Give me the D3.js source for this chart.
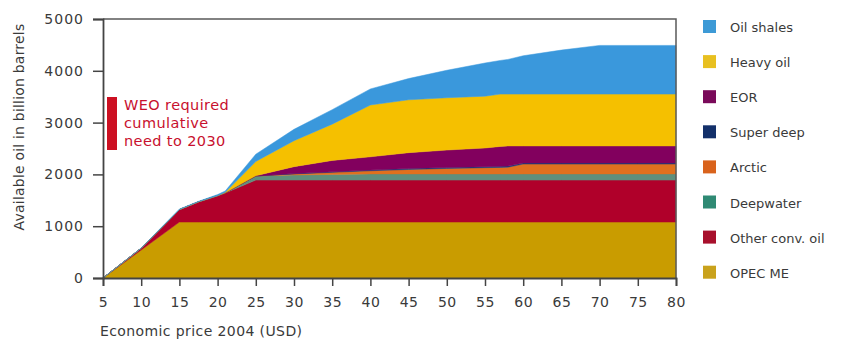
<!DOCTYPE html>
<html>
<head>
<meta charset="utf-8">
<script src="https://cdn.jsdelivr.net/npm/d3@7/dist/d3.min.js"></script>
<style>
  html, body { margin: 0; padding: 0; background: #fff; }
  svg { display: block; }
  text { font-family: "DejaVu Sans", sans-serif; fill: #3a3a3a; }
</style>
</head>
<body>
<svg id="chart" width="847" height="342"></svg>
<script>
// Economic price (2004 USD per barrel)
const prices = [5, 10, 15, 17.5, 20, 21, 25, 30, 35, 40, 45, 50, 55, 57, 58, 60, 65, 70, 75, 80];

// Available oil by source, billion barrels (stacked bottom to top)
const opecME    = [0, 540, 1080, 1080, 1080, 1080, 1080, 1080, 1080, 1080, 1080, 1080, 1080, 1080, 1080, 1080, 1080, 1080, 1080, 1080];
const otherConv = [0, 35, 240, 390, 510, 560, 810, 810, 810, 810, 810, 810, 810, 810, 810, 810, 810, 810, 810, 810];
const deepwater = [0, 0, 0, 0, 0, 5, 80, 100, 110, 120, 120, 120, 120, 120, 120, 120, 120, 120, 120, 120];
const arctic    = [0, 0, 0, 0, 0, 0, 0, 20, 40, 60, 85, 105, 120, 125, 130, 190, 190, 190, 190, 190];
const superDeep = [0, 0, 0, 0, 0, 0, 0, 5, 10, 15, 20, 20, 20, 20, 20, 20, 20, 20, 20, 20];
const eor       = [0, 0, 0, 0, 0, 0, 5, 135, 220, 255, 305, 335, 360, 385, 390, 330, 330, 330, 330, 330];
const heavyOil  = [0, 0, 0, 0, 0, 10, 275, 500, 700, 1000, 1020, 1010, 1000, 1010, 1000, 1000, 1000, 1000, 1000, 1000];
const oilShales = [0, 5, 10, 10, 20, 25, 140, 220, 280, 310, 410, 530, 640, 650, 670, 740, 850, 940, 940, 940];

const xTicks = [5, 10, 15, 20, 25, 30, 35, 40, 45, 50, 55, 60, 65, 70, 75, 80];
const yTicks = [0, 1000, 2000, 3000, 4000, 5000];

const seriesKeys   = ["OPEC ME", "Other conv. oil", "Deepwater", "Arctic", "Super deep", "EOR", "Heavy oil", "Oil shales"];
const seriesValues = [opecME, otherConv, deepwater, arctic, superDeep, eor, heavyOil, oilShales];
const areaColors   = ["#c99c00", "#b0002a", "#5f8f7c", "#e0701e", "#1a3a7a", "#82005e", "#f5c000", "#3a98dc"];
const legendColors = ["#c9a21c", "#a8102c", "#2f8a74", "#d9631c", "#13306a", "#7a0a5a", "#e8c020", "#3d9ad6"];

const rows = prices.map((p, i) => {
  const r = { price: p };
  seriesKeys.forEach((k, j) => { r[k] = seriesValues[j][i]; });
  return r;
});

const svg = d3.select("#chart");
const m = { left: 103, right: 676, top: 19, bottom: 278 };

const x = d3.scaleLinear().domain([5, 80]).range([m.left, m.right]);
const y = d3.scaleLinear().domain([0, 5000]).range([m.bottom, m.top]);

const stacked = d3.stack().keys(seriesKeys)(rows);
const area = d3.area()
  .x(d => x(d.data.price))
  .y0(d => y(d[0]))
  .y1(d => y(d[1]));

svg.append("g").selectAll("path")
  .data(stacked)
  .join("path")
  .attr("d", area)
  .attr("fill", (d, i) => areaColors[i])
  .attr("stroke", (d, i) => areaColors[i])
  .attr("stroke-width", 0.5);

// frame: top and right edges
svg.append("path")
  .attr("d", `M${m.left},${m.top}H${m.right}V${m.bottom}`)
  .attr("fill", "none")
  .attr("stroke", "#5a5a5a")
  .attr("stroke-width", 1.5);

// y axis
const yAxis = svg.append("g")
  .attr("transform", `translate(${m.left},0)`)
  .call(d3.axisLeft(y).tickValues(yTicks).tickFormat(d3.format("d")).tickSize(10).tickPadding(9));
yAxis.select(".domain").attr("stroke", "#444").attr("stroke-width", 1.8);
yAxis.selectAll(".tick line").attr("stroke", "#444").attr("stroke-width", 1.5);
yAxis.selectAll("text").style("font-size", "14px").style("letter-spacing", "1px").attr("fill", "#3a3a3a");

// x axis
const xAxis = svg.append("g")
  .attr("transform", `translate(0,${m.bottom})`)
  .call(d3.axisBottom(x).tickValues(xTicks).tickFormat(d3.format("d")).tickSize(8).tickPadding(11));
xAxis.select(".domain").attr("stroke", "#444").attr("stroke-width", 1.8);
xAxis.selectAll(".tick line").attr("stroke", "#444").attr("stroke-width", 1.5);
xAxis.selectAll("text").style("font-size", "14px").style("letter-spacing", "0.5px").attr("fill", "#3a3a3a");

// axis titles
svg.append("text")
  .attr("x", 100).attr("y", 336)
  .style("font-size", "14px")
  .style("letter-spacing", "0.4px")
  .text("Economic price 2004 (USD)");

svg.append("text")
  .attr("transform", "translate(24,127) rotate(-90)")
  .attr("text-anchor", "middle")
  .style("font-size", "14px")
  .style("letter-spacing", "0.2px")
  .text("Available oil in billion barrels");

// WEO annotation
svg.append("rect")
  .attr("x", 107).attr("y", 97).attr("width", 10).attr("height", 53)
  .attr("fill", "#cc1022");
const note = svg.append("text")
  .attr("x", 124).attr("y", 110)
  .style("font-size", "14.5px")
  .style("letter-spacing", "0.4px")
  .style("fill", "#c8102e");
["WEO required", "cumulative", "need to 2030"].forEach((t, i) => {
  note.append("tspan").attr("x", 124).attr("dy", i === 0 ? 0 : 18).text(t);
});

// legend (top to bottom mirrors the stack)
const legendItems = seriesKeys.map((k, i) => ({ key: k, color: legendColors[i] })).reverse();
const lg = svg.append("g").selectAll("g")
  .data(legendItems)
  .join("g")
  .attr("transform", (d, i) => `translate(703,${27 + i * 35.1})`);
lg.append("rect")
  .attr("x", 0).attr("y", -7).attr("width", 13).attr("height", 13)
  .attr("fill", d => d.color);
lg.append("text")
  .attr("x", 27).attr("y", 5)
  .style("font-size", "13px")
  .text(d => d.key);
</script>
</body>
</html>
